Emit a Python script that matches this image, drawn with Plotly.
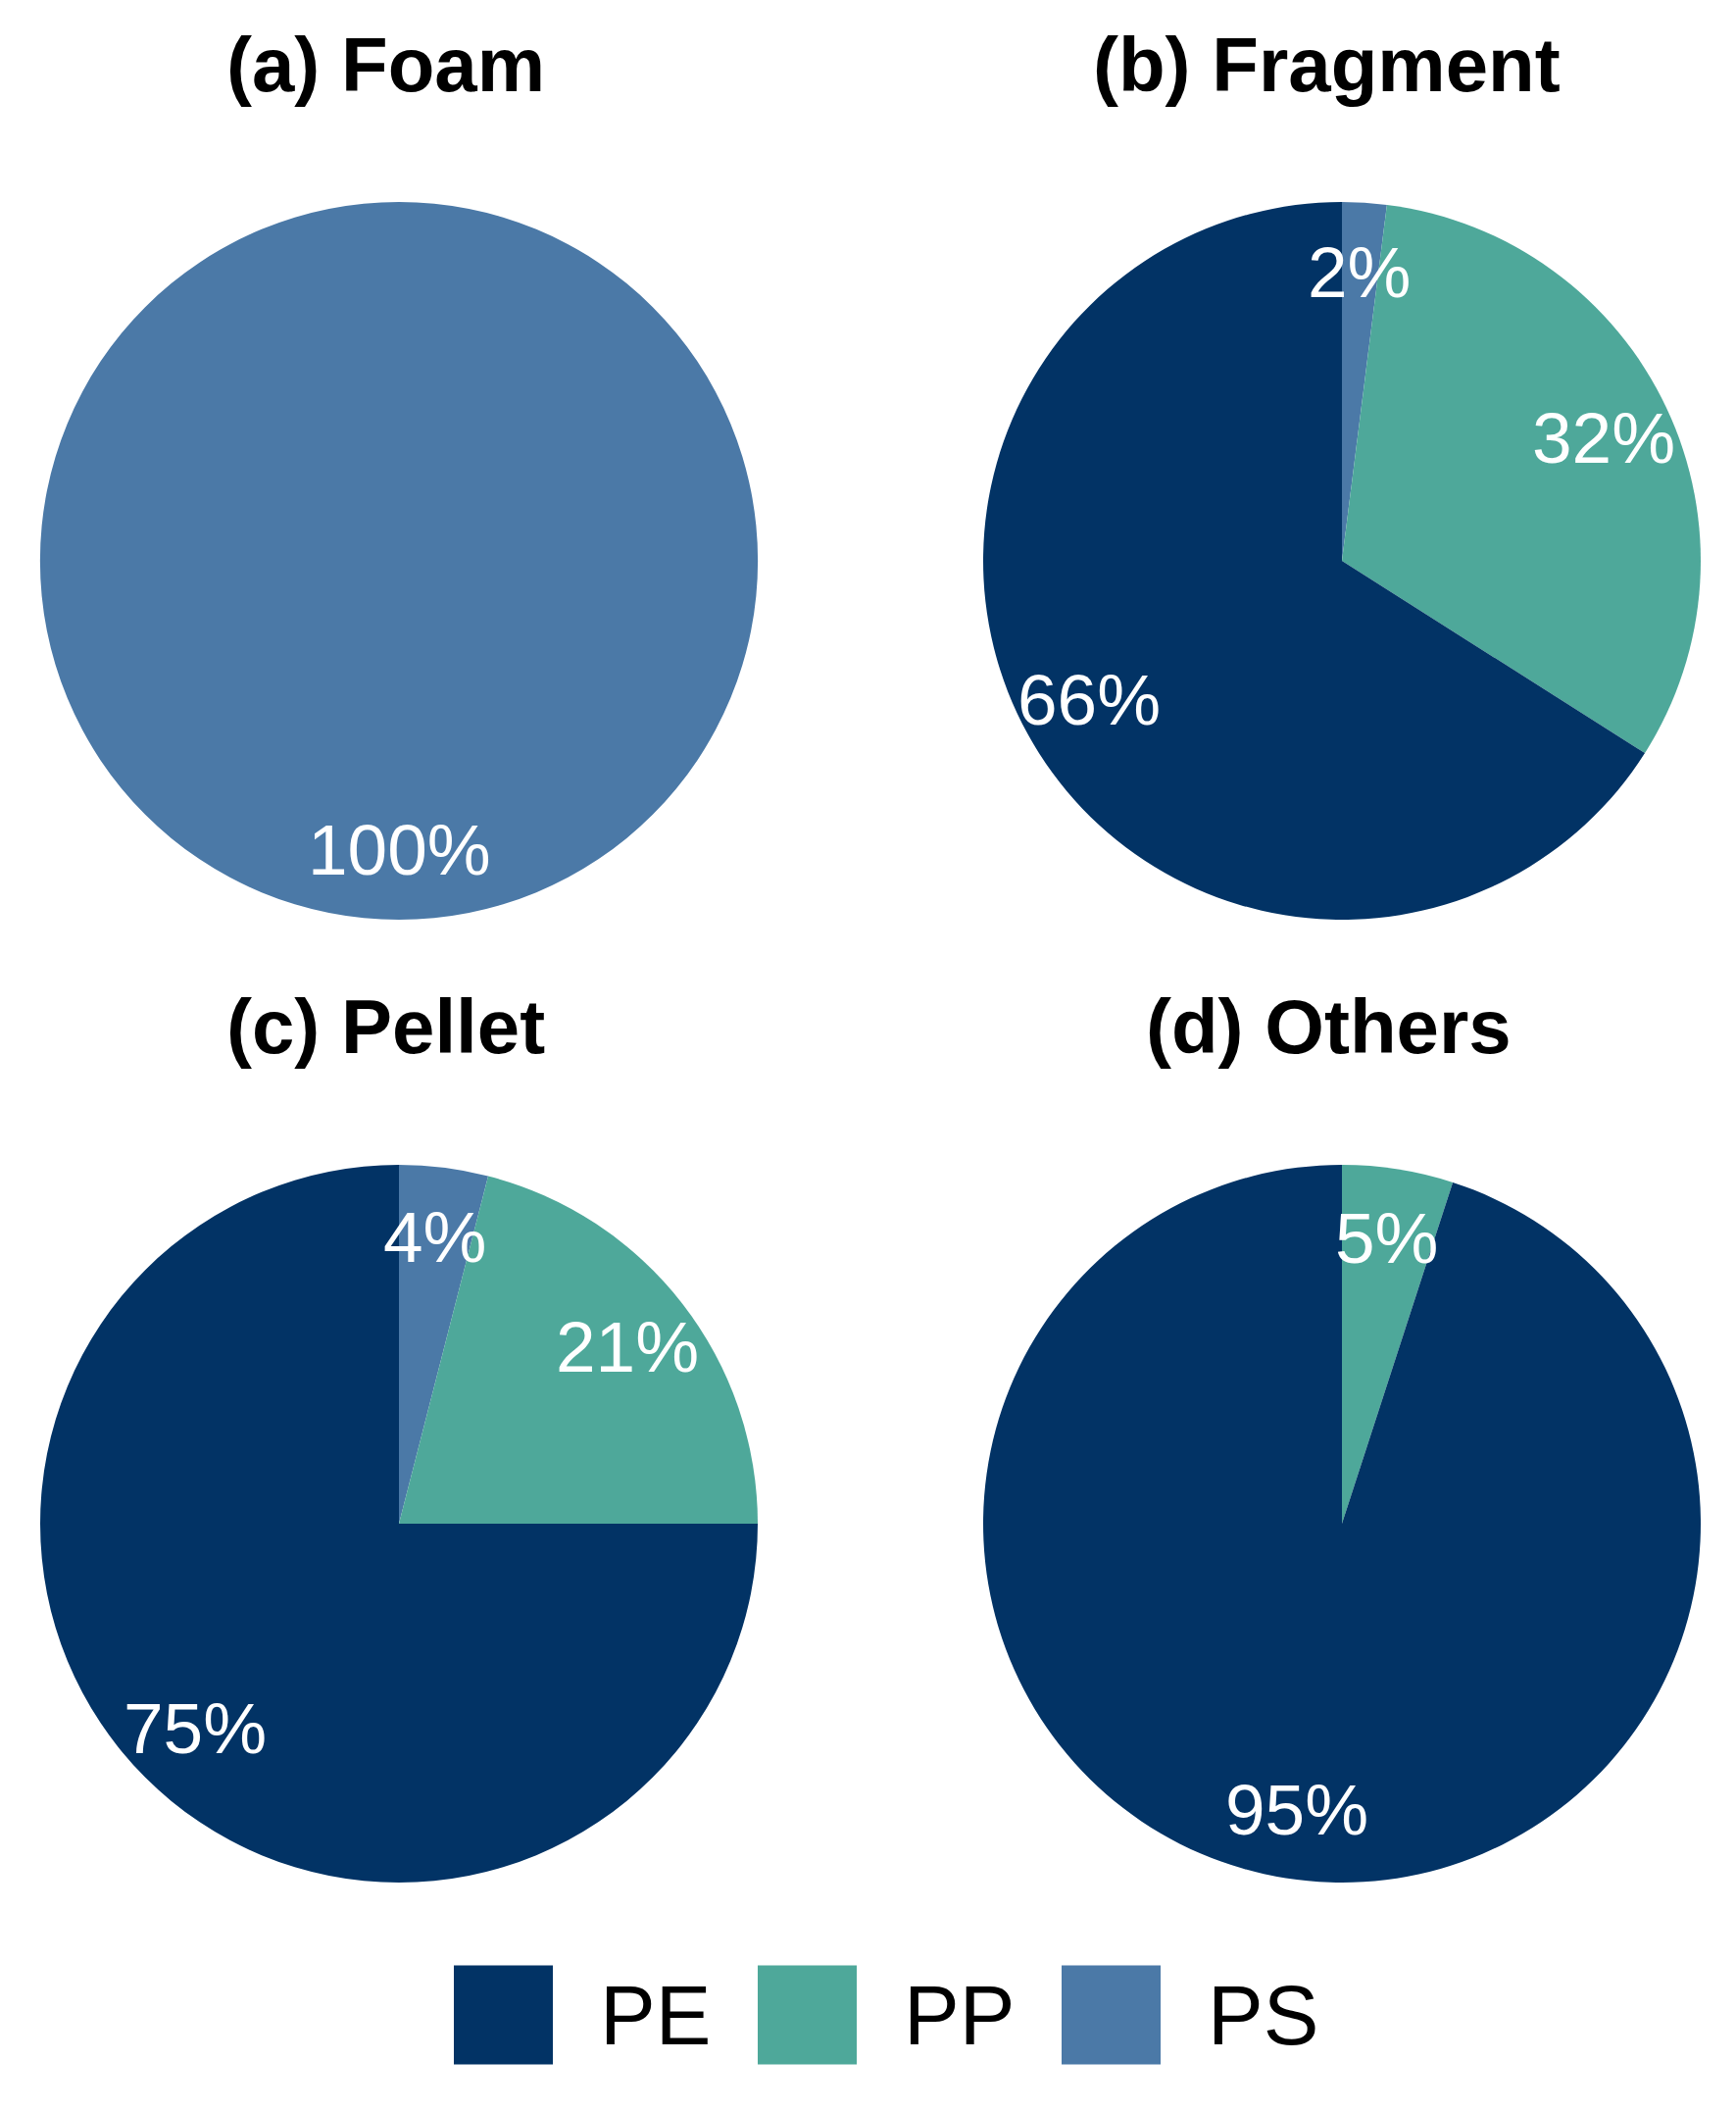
import math
import plotly.graph_objects as go

W, H = 1771, 2153

# ---- data ----
panel_titles = ["(a) Foam", "(b) Fragment", "(c) Pellet", "(d) Others"]
polymers = ["PS", "PP", "PE"]            # clockwise order from 12 o'clock
foam_values = [100, 0, 0]
fragment_values = [2, 32, 66]
pellet_values = [4, 21, 75]
others_values = [0, 5, 95]
legend_order = ["PE", "PP", "PS"]

colors = {"PE": "#023365", "PP": "#4EA89A", "PS": "#4B79A7"}

panels = [foam_values, fragment_values, pellet_values, others_values]

# ---- layout geometry (pixels) ----
R = 366
centers = [(407, 572), (1369, 572), (407, 1554), (1369, 1554)]
title_pos = [(393, 66), (1353, 66), (393, 1047), (1355, 1047)]

fig = go.Figure()
annotations = []
for i, vals in enumerate(panels):
    cx, cy = centers[i]
    dom_x = [(cx - R) / W, (cx + R) / W]
    dom_y = [1 - (cy + R) / H, 1 - (cy - R) / H]
    fig.add_trace(go.Pie(
        labels=polymers, values=vals, sort=False, direction="clockwise",
        rotation=0, textinfo="none", hoverinfo="label+percent",
        marker=dict(colors=[colors[p] for p in polymers], line=dict(width=0)),
        domain=dict(x=dom_x, y=dom_y), showlegend=False,
    ))
    total = sum(vals)
    cum = 0
    for p, v in zip(polymers, vals):
        if v <= 0:
            continue
        mid = (cum + v / 2) / total * 2 * math.pi
        cum += v
        lx = cx + 0.805 * R * math.sin(mid)
        ly = cy - 0.805 * R * math.cos(mid)
        annotations.append(dict(
            x=lx / W, y=1 - ly / H, xref="paper", yref="paper",
            text=f"{v}%", showarrow=False, xanchor="center", yanchor="middle",
            font=dict(family="Liberation Sans, Arial", size=73, color="white"),
        ))
    tx, ty = title_pos[i]
    annotations.append(dict(
        x=tx / W, y=1 - ty / H, xref="paper", yref="paper",
        text=f"<b>{panel_titles[i]}</b>", showarrow=False,
        xanchor="center", yanchor="middle",
        font=dict(family="Liberation Sans, Arial", size=78, color="black"),
    ))

# ---- legend (drawn) ----
shapes = []
sq_left = [463, 773, 1083]
sq_size = 101
leg_cy = 2055
for name, x0 in zip(legend_order, sq_left):
    shapes.append(dict(
        type="rect", xref="paper", yref="paper",
        x0=x0 / W, x1=(x0 + sq_size) / W,
        y0=1 - (leg_cy + sq_size / 2) / H, y1=1 - (leg_cy - sq_size / 2) / H,
        fillcolor=colors[name], line=dict(width=0),
    ))
    annotations.append(dict(
        x=(x0 + sq_size + 46) / W, y=1 - leg_cy / H, xref="paper", yref="paper",
        text=name, showarrow=False, xanchor="left", yanchor="middle",
        font=dict(family="Liberation Sans, Arial", size=85, color="black"),
    ))

fig.update_layout(
    width=W, height=H,
    margin=dict(l=0, r=0, t=0, b=0),
    paper_bgcolor="white", plot_bgcolor="white",
    annotations=annotations, shapes=shapes,
)

fig.write_html("out.html",
               config={"displayModeBar": False},
               post_script="document.body.style.margin='0';document.body.style.overflow='hidden';")
